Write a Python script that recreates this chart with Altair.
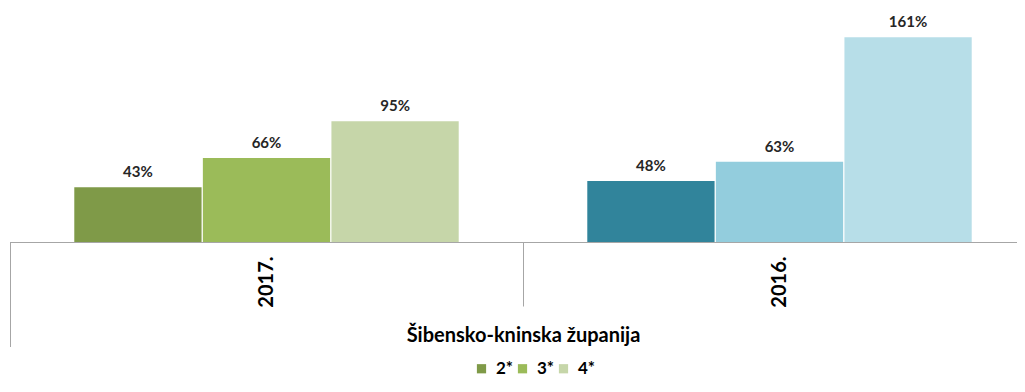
import altair as alt
import pandas as pd

years = ["2017.", "2017.", "2017.", "2016.", "2016.", "2016."]
stars = ["2*", "3*", "4*", "2*", "3*", "4*"]
values = [43, 66, 95, 48, 63, 161]
labels = ["43%", "66%", "95%", "48%", "63%", "161%"]
colors = ["#7f9a48", "#9bbb59", "#c6d6a9", "#31849b", "#93cddd", "#b7dee8"]
region = "Šibensko-kninska županija"

df = pd.DataFrame({
    "year": years,
    "star": stars,
    "value": values,
    "label": labels,
    "key": [y + "|" + s for y, s in zip(years, stars)],
})
keys = list(df["key"])

FONT = "Lato"

base = alt.Chart(df).encode(
    x=alt.X(
        "year:N",
        sort=["2017.", "2016."],
        scale=alt.Scale(paddingInner=0, paddingOuter=0),
        axis=alt.Axis(
            title=region,
            titleFont=FONT, titleFontSize=20, titleFontWeight="bold", titleColor="#000000",
            titleY=93, titleBaseline="middle",
            labelAngle=270, labelAlign="right", labelBaseline="middle",
            labelFont=FONT, labelFontSize=20, labelFontWeight="bold", labelColor="#000000",
            labelPadding=-50,
            tickBand="extent", tickSize=64, tickColor="#a6a6a6", tickWidth=1,
            domainColor="#a6a6a6", domainWidth=1,
        ),
    ),
    xOffset=alt.XOffset("star:N", sort=["2*", "3*", "4*"],
                        scale=alt.Scale(paddingInner=0.01, paddingOuter=0.5)),
    y=alt.Y("value:Q", scale=alt.Scale(domain=[0, 180]), axis=None),
)

bars = base.mark_bar().encode(
    color=alt.Color(
        "key:N",
        scale=alt.Scale(domain=keys, range=colors),
        legend=alt.Legend(
            values=keys[:3],
            labelExpr="split(datum.label, '|')[1]",
            title=None, orient="none", legendX=463, legendY=347,
            direction="horizontal", symbolType="square", symbolSize=85,
            symbolStrokeWidth=0, labelFont=FONT, labelFontSize=17,
            labelFontWeight="bold", labelColor="#000000", columnPadding=0,
            labelOffset=6,
        ),
    )
)

text = base.mark_text(font=FONT, fontSize=15, fontWeight="bold", color="#262626",
                      baseline="alphabetic", dy=-10).encode(text="label:N")

edge = alt.Chart(df).mark_rule(color="#a6a6a6", strokeWidth=1).encode(
    x=alt.value(0.5), y=alt.value(229), y2=alt.value(334)
)

chart = (bars + text + edge).properties(
    width=1026, height=229,
    autosize=alt.AutoSizeParams(type="none"),
    padding={"left": 2, "top": 5, "right": -19, "bottom": 136},
).configure_view(stroke=None)

chart.save("out.html", embed_options={"renderer": "svg", "actions": False})
